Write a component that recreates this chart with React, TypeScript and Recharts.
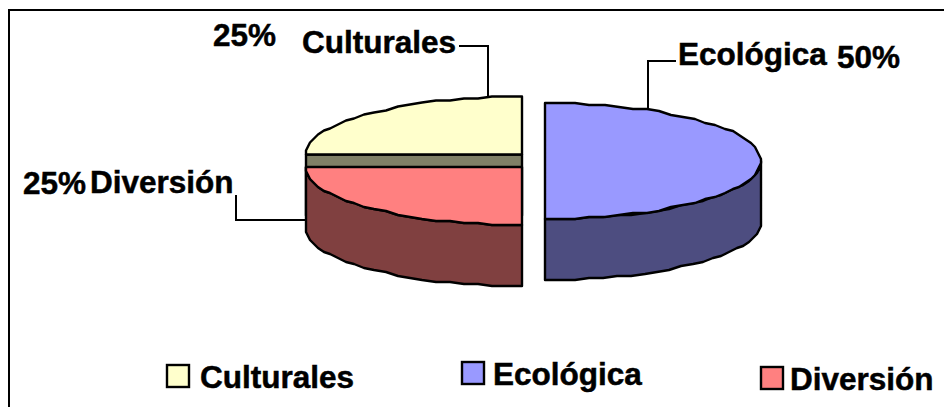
import React from 'react';
import { PieChart, Pie, Legend } from 'recharts';

const categories = ['Culturales', 'Ecológica', 'Diversión'];
const shares = [25, 50, 25];

const chartData = categories.map((name, i) => ({ name, value: shares[i] }));

const topColors = ['#FFFFCC', '#9999FF', '#FF8080'];
const sideColors = ['#808066', '#4D4D80', '#804040'];

const FONT = '"Liberation Sans", Arial, sans-serif';
const FONT_SIZE = 31.5;
const SQUASH = 58 / 216;
const DEPTH = 61;
const CELL = 2;

// exploded slices, pixels from the pie centre
const explode = [
  { dx: -11.5, dy: -6 },
  { dx: 11.5, dy: 0.5 },
  { dx: -11.5, dy: 6.5 },
];

const labelSpots = [
  { nameX: 302, nameY: 53, pctX: 213, pctY: 46, line: 'M459,46 H488 V97' },
  { nameX: 678, nameY: 65, pctX: 837, pctY: 68, line: 'M676,61 H648 V108' },
  { nameX: 90, nameY: 193, pctX: 23, pctY: 194, line: 'M236,195 V220 H306' },
];

const legendSpots = [
  { x: 167, y: 365, textX: 200, textY: 388 },
  { x: 462, y: 362, textX: 493, textY: 385 },
  { x: 761, y: 367, textX: 790, textY: 390 },
];

// the source picture is a low-res metafile, so curves are snapped to a coarse grid
const rough = (v: number) => Math.round(v / CELL) * CELL;

const arcPoints = (cx: number, cy: number, rx: number, from: number, to: number) => {
  const ry = rx * SQUASH;
  const steps = Math.round(Math.abs(to - from) / 4);
  const pts: [number, number][] = [];
  for (let i = 0; i <= steps; i++) {
    const a = ((from + ((to - from) * i) / steps) * Math.PI) / 180;
    const p: [number, number] =
      i === 0 || i === steps
        ? [cx + rx * Math.cos(a), cy - ry * Math.sin(a)]
        : [cx + rough(rx * Math.cos(a)), cy - rough(ry * Math.sin(a))];
    const last = pts[pts.length - 1];
    if (!last || last[0] !== p[0] || last[1] !== p[1]) pts.push(p);
  }
  return pts;
};

const toPath = (pts: [number, number][]) => pts.map((p) => `${p[0]},${p[1]}`).join(' L');

const Slice3D = (props: any) => {
  const { cx, cy, outerRadius, startAngle, endAngle, index } = props;
  const x = cx + explode[index].dx;
  const y = cy + explode[index].dy;
  const outline = { stroke: '#000', strokeWidth: 2.4, strokeLinejoin: 'round' as const };
  const top = arcPoints(x, y, outerRadius, startAngle, endAngle);

  // wall follows the part of the rim that faces the viewer (angles below 0)
  const lowFrom = Math.min(startAngle, 0);
  const lowTo = Math.max(endAngle, -180);
  const hasWall = lowFrom > lowTo;
  const rim = hasWall ? arcPoints(x, y, outerRadius, lowFrom, lowTo) : [];
  const rimLow = rim.map((p) => [p[0], p[1] + DEPTH] as [number, number]).reverse();

  return (
    <g>
      {/* cut face, only the back left slice shows it */}
      {index === 0 && (
        <rect x={x - outerRadius} y={y} width={outerRadius} height={DEPTH} fill={sideColors[index]} {...outline} />
      )}
      {hasWall && <path d={`M${toPath(rim)} L${toPath(rimLow)} Z`} fill={sideColors[index]} {...outline} />}
      <path d={`M${x},${y} L${toPath(top)} Z`} fill={topColors[index]} {...outline} />
    </g>
  );
};

const SliceLabel = (props: any) => {
  const { index, name, percent } = props;
  const spot = labelSpots[index];
  const text = { fontFamily: FONT, fontSize: FONT_SIZE, fontWeight: 700, fill: '#000', stroke: '#000', strokeWidth: 0.5 };
  return (
    <g>
      <path d={spot.line} fill="none" stroke="#000" strokeWidth={2} />
      <text x={spot.nameX} y={spot.nameY} {...text}>{name}</text>
      <text x={spot.pctX} y={spot.pctY} {...text}>{`${Math.round(percent * 100)}%`}</text>
    </g>
  );
};

const LegendBox = () => (
  <svg width={944} height={407} style={{ position: 'absolute', left: 0, top: 0 }}>
    {categories.map((name, i) => (
      <g key={name}>
        <rect
          x={legendSpots[i].x}
          y={legendSpots[i].y}
          width={22}
          height={22}
          fill={topColors[i]}
          stroke="#000"
          strokeWidth={2.4}
        />
        <text
          x={legendSpots[i].textX}
          y={legendSpots[i].textY}
          fontFamily={FONT}
          fontSize={FONT_SIZE}
          fontWeight={700}
          stroke="#000"
          strokeWidth={0.5}
        >
          {name}
        </text>
      </g>
    ))}
  </svg>
);

const App = () => (
  <div style={{ position: 'absolute', left: 0, top: 0, width: 944, height: 407, background: '#fff', overflow: 'hidden' }}>
    <div
      style={{
        position: 'absolute',
        left: 8,
        top: 9,
        width: 960,
        height: 420,
        border: '2px solid #000',
      }}
    />
    <PieChart
      width={944}
      height={407}
      margin={{ top: 0, right: 0, bottom: 0, left: 0 }}
      style={{ position: 'absolute', left: 0, top: 0 }}
    >
      <Pie
        data={chartData}
        dataKey="value"
        nameKey="name"
        cx={533.5}
        cy={160.5}
        innerRadius={0}
        outerRadius={216}
        startAngle={180}
        endAngle={-180}
        paddingAngle={0}
        stroke="none"
        shape={Slice3D}
        label={SliceLabel}
        labelLine={false}
        isAnimationActive={false}
      />
      <Legend content={LegendBox} wrapperStyle={{ left: 0, top: 0, bottom: 'auto', width: 944 }} />
    </PieChart>
  </div>
);

export default App;
